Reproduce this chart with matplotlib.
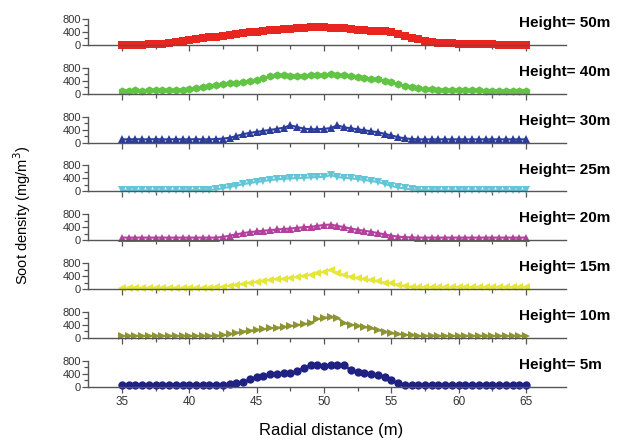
import numpy as np
import matplotlib.pyplot as plt

plt.rcParams['font.family'] = ['Liberation Sans', 'DejaVu Sans']

# radial positions (m), one sample every 0.5 m
radial = np.arange(35, 65.01, 0.5)

h50 = [5, 8, 10, 15, 20, 30, 45, 65, 90, 120,
       160, 185, 210, 235, 260, 290, 315, 335, 360, 385,
       410, 430, 450, 470, 490, 505, 520, 535, 550, 545,
       540, 530, 525, 510, 490, 470, 455, 445, 440, 440,
       400, 340, 280, 220, 170, 130, 100, 75, 60, 50,
       40, 35, 30, 25, 20, 18, 15, 12, 10, 10, 8]
h40 = [100, 100, 105, 100, 105, 110, 105, 110, 120, 130,
       150, 170, 200, 230, 260, 300, 320, 340, 370, 400,
       430, 480, 540, 570, 570, 560, 560, 560, 570, 580,
       590, 600, 590, 570, 550, 530, 500, 470, 440, 400,
       350, 300, 250, 210, 180, 150, 140, 130, 120, 115,
       110, 110, 105, 105, 100, 100, 100, 100, 95, 95, 95]
h30 = [100, 100, 105, 100, 100, 105, 100, 100, 105, 100,
       100, 105, 100, 100, 110, 120, 150, 200, 260, 300,
       330, 360, 390, 420, 460, 530, 480, 430, 410, 410,
       420, 450, 530, 470, 440, 410, 380, 350, 320, 270,
       220, 170, 130, 110, 100, 100, 100, 100, 100, 100,
       100, 100, 100, 100, 100, 100, 100, 100, 100, 100, 100]
h25 = [30, 30, 30, 30, 30, 30, 30, 30, 30, 35,
       35, 40, 40, 50, 60, 100, 140, 180, 220, 260,
       290, 320, 350, 370, 390, 400, 410, 420, 430, 440,
       450, 500, 440, 420, 400, 380, 350, 320, 290, 230,
       170, 120, 90, 60, 45, 40, 30, 30, 30, 30,
       30, 30, 30, 30, 30, 30, 30, 30, 30, 30, 30]
h20 = [80, 80, 80, 80, 80, 80, 80, 80, 80, 80,
       80, 80, 80, 80, 80, 100, 140, 180, 220, 250,
       270, 290, 310, 330, 345, 360, 380, 400, 410, 440,
       470, 480, 440, 400, 360, 320, 290, 260, 220, 180,
       140, 110, 95, 85, 80, 80, 80, 80, 80, 80,
       80, 80, 80, 80, 80, 80, 80, 80, 80, 80, 80]
h15 = [40, 40, 40, 40, 40, 40, 40, 40, 40, 40,
       40, 40, 40, 45, 50, 70, 100, 130, 160, 190,
       220, 250, 280, 300, 320, 340, 370, 400, 440, 480,
       530, 590, 500, 420, 380, 340, 310, 280, 240, 200,
       170, 130, 95, 70, 50, 50, 50, 50, 50, 50,
       50, 50, 50, 50, 50, 50, 50, 50, 50, 50, 50]
h10 = [60, 60, 60, 60, 60, 60, 60, 60, 60, 60,
       60, 60, 60, 60, 65, 80, 110, 150, 190, 220,
       240, 265, 290, 310, 330, 360, 390, 420, 450, 570,
       620, 630, 620, 450, 400, 370, 330, 290, 240, 190,
       140, 110, 95, 75, 60, 60, 60, 60, 60, 60,
       60, 60, 60, 60, 60, 60, 60, 60, 60, 60, 60]
h5 = [50, 50, 50, 50, 50, 50, 50, 50, 50, 50,
      50, 50, 50, 50, 55, 60, 70, 100, 140, 220,
      290, 340, 380, 400, 410, 410, 480, 570, 650, 650,
      640, 650, 650, 650, 510, 460, 430, 400, 360, 280,
      190, 100, 50, 50, 50, 50, 50, 50, 50, 50,
      50, 50, 50, 50, 50, 50, 50, 50, 50, 50, 50]

heights = ['50m', '40m', '30m', '25m', '20m', '15m', '10m', '5m']
series = [h50, h40, h30, h25, h20, h15, h10, h5]
colors = ['#e8251f', '#62c444', '#2b3c9c', '#62c6d6',
          '#b3409c', '#e6e63a', '#8e9432', '#1f2183']
markers = ['s', 'h', '^', 'v', '^', '<', '>', 'o']

W, H = 619, 444
fig = plt.figure(figsize=(W / 100, H / 100), dpi=100)

x_left, x_right = 88, 566
xmin, xmax = 32.48, 67.97

for i, (vals, name, c, m) in enumerate(zip(series, heights, colors, markers)):
    base = 45 + 48.8 * i
    ax = fig.add_axes([x_left / W, 1 - base / H, (x_right - x_left) / W, 39 / H])
    ax.patch.set_visible(False)
    ax.plot(radial, vals, color=c, marker=m, ms=6, lw=1.5, mew=0, clip_on=False)
    ax.set_xlim(xmin, xmax)
    ax.set_ylim(0, 1200)
    for s in ['top', 'right']:
        ax.spines[s].set_visible(False)
    ax.spines['left'].set_bounds(0, 800)
    for s in ['left', 'bottom']:
        ax.spines[s].set_color('#555555')
        ax.spines[s].set_linewidth(1.0)
    ax.set_xticks(np.arange(35, 66, 5))
    ax.set_xticks(np.arange(37.5, 65, 5), minor=True)
    ax.set_yticks([0, 400, 800])
    ax.set_yticks([200, 600], minor=True)
    ax.tick_params(axis='both', which='major', direction='out', length=4,
                   width=0.9, color='#555555', labelsize=8, pad=1,
                   labelcolor='#333333')
    ax.tick_params(axis='both', which='minor', direction='out', length=3,
                   width=0.9, color='#555555')
    ax.tick_params(axis='x', which='major', labelsize=8.5, pad=3)
    if i < len(series) - 1:
        ax.tick_params(axis='x', labelbottom=False)
    ax.text(0.902, 0.56, 'Height= ' + name, transform=ax.transAxes,
            ha='left', va='center', fontsize=11, fontweight='bold')

fig.text(331 / W, 1 - 430 / H, 'Radial distance (m)', ha='center',
         va='center', fontsize=12)
fig.text(22 / W, 1 - 215 / H, 'Soot density (mg/m$^3$)', ha='center',
         va='center', rotation=90, fontsize=10.5)

fig.savefig('out.png', dpi=100)
